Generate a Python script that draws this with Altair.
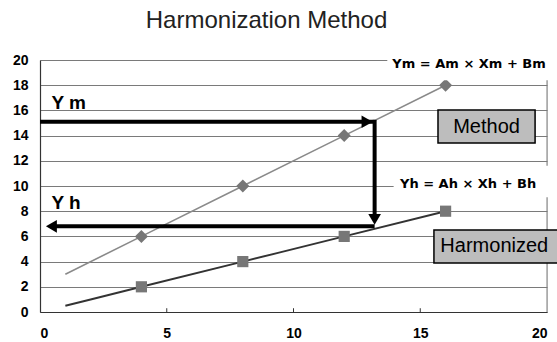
import altair as alt
import pandas as pd

# ---- data ----
line_x = [1, 4, 8, 12, 16]
method_y = [3, 6, 10, 14, 18]
harmonized_y = [0.5, 2, 4, 6, 8]
marker_min_x = 4

x_ticks = [0, 5, 10, 15, 20]
y_ticks = [0, 2, 4, 6, 8, 10, 12, 14, 16, 18, 20]

# arrow path (data units)
ym_level = 15.1
yh_level = 6.8
arrow_x = 13.2

eq_texts = ["Ym = Am  \u00d7  Xm + Bm", "Yh = Ah  \u00d7  Xh + Bh"]
eq_x = [13.9, 14.2]
eq_y = [19.72, 10.16]
eq_bg_x = [13.7, 13.95]
eq_bg_x2 = [20.4, 20.4]
eq_bg_y = [20.6, 11.6]
eq_bg_y2 = [18.4, 9.1]

box_texts = ["Method", "Harmonized"]
box_x = [15.7, 15.54]
box_x2 = [19.53, 20.45]
box_y = [16.03, 6.51]
box_y2 = [13.41, 3.89]

ylab_texts = ["Y m", "Y h"]
ylab_x = [0.45, 0.45]
ylab_y = [16.15, 8.17]

FONT = "Liberation Sans"

xs = alt.Scale(domain=[0, 20], nice=False)
ys = alt.Scale(domain=[0, 20], nice=False)

df = pd.DataFrame({"x": line_x, "method": method_y, "harm": harmonized_y})

base = alt.Chart(df)

xenc = alt.X("x:Q", scale=xs, axis=alt.Axis(values=x_ticks, grid=False, ticks=False,
                                              labelPadding=14, labelFontSize=14, labelFontWeight="bold",
                                              labelColor="black", domainColor="#333333", domainWidth=1.2,
                                              title=None, labelFont=FONT, labelOverlap=False))
yaxis = alt.Axis(values=y_ticks, grid=True, gridColor="#7a7a7a", gridWidth=1, ticks=False,
                 labelPadding=12, labelFontSize=14, labelFontWeight="bold", labelColor="black",
                 domainColor="#333333", domainWidth=1.2, title=None, labelFont=FONT,
                 labelOverlap=False, tickCount=11)

method_line = base.mark_line(color="#8a8a8a", strokeWidth=1.6).encode(
    x=xenc, y=alt.Y("method:Q", scale=ys, axis=yaxis))
harm_line = base.mark_line(color="#333333", strokeWidth=2, interpolate="monotone").encode(
    x=alt.X("x:Q", scale=xs), y=alt.Y("harm:Q", scale=ys))

method_pts = base.transform_filter(alt.datum.x >= marker_min_x).mark_point(
    shape="diamond", filled=True, size=170, color="#777777", opacity=1).encode(
    x=alt.X("x:Q", scale=xs), y=alt.Y("method:Q", scale=ys))
harm_pts = base.transform_filter(alt.datum.x >= marker_min_x).mark_point(
    shape="square", filled=True, size=125, color="#777777", opacity=1).encode(
    x=alt.X("x:Q", scale=xs), y=alt.Y("harm:Q", scale=ys))

# right border and inner x ticks
border_df = pd.DataFrame({"x": [20], "y": [0], "y2": [20]})
border = alt.Chart(border_df).mark_rule(color="#7a7a7a", strokeWidth=1).encode(
    x=alt.X("x:Q", scale=xs), y=alt.Y("y:Q", scale=ys), y2="y2:Q")
tick_df = pd.DataFrame({"x": x_ticks[1:-1], "y": [0] * 3, "y2": [0.3] * 3})
xticks = alt.Chart(tick_df).mark_rule(color="#333333", strokeWidth=1).encode(
    x=alt.X("x:Q", scale=xs), y=alt.Y("y:Q", scale=ys), y2="y2:Q")

# arrows
seg_df = pd.DataFrame({
    "x": [0, arrow_x, arrow_x],
    "x2": [arrow_x, arrow_x, 0.4],
    "y": [ym_level, ym_level + 0.15, yh_level],
    "y2": [ym_level, yh_level + 0.6, yh_level],
})
segs = alt.Chart(seg_df).mark_rule(color="black", strokeWidth=4).encode(
    x=alt.X("x:Q", scale=xs), x2="x2:Q", y=alt.Y("y:Q", scale=ys), y2="y2:Q")
head_df = pd.DataFrame({
    "x": [arrow_x - 0.3, arrow_x, 0.45],
    "y": [ym_level, yh_level + 0.55, yh_level],
    "shape": ["triangle-right", "triangle-down", "triangle-left"],
})
heads = alt.Chart(head_df).mark_point(filled=True, color="black", opacity=1, size=160).encode(
    x=alt.X("x:Q", scale=xs), y=alt.Y("y:Q", scale=ys),
    shape=alt.Shape("shape:N", scale=None, legend=None))

# equation labels with white background
eq_df = pd.DataFrame({"t": eq_texts, "x": eq_x, "y": eq_y, "bx": eq_bg_x, "bx2": eq_bg_x2,
                      "by": eq_bg_y, "by2": eq_bg_y2})
eq_bg = alt.Chart(eq_df).mark_rect(color="white").encode(
    x=alt.X("bx:Q", scale=xs), x2="bx2:Q", y=alt.Y("by:Q", scale=ys), y2="by2:Q")
eq_txt = alt.Chart(eq_df).mark_text(align="left", baseline="middle", fontSize=13,
                                     fontWeight="bold", font="DejaVu Sans", color="black").encode(
    x=alt.X("x:Q", scale=xs), y=alt.Y("y:Q", scale=ys), text="t:N")

# boxes
box_df = pd.DataFrame({"t": box_texts, "x": box_x, "x2": box_x2, "y": box_y, "y2": box_y2})
box_df["cx"] = [(a + b) / 2 for a, b in zip(box_x, [19.53, 20.3])]
box_df["cy"] = [(a + b) / 2 for a, b in zip(box_y, box_y2)]
boxes = alt.Chart(box_df).mark_rect(fill="#bdbdbd", stroke="black", strokeWidth=1.5).encode(
    x=alt.X("x:Q", scale=xs), x2="x2:Q", y=alt.Y("y:Q", scale=ys), y2="y2:Q")
box_txt = alt.Chart(box_df).mark_text(fontSize=20, font=FONT, color="black", baseline="middle").encode(
    x=alt.X("cx:Q", scale=xs), y=alt.Y("cy:Q", scale=ys), text="t:N")

# Y m / Y h labels
yl_df = pd.DataFrame({"t": ylab_texts, "x": ylab_x, "y": ylab_y})
ylabs = alt.Chart(yl_df).mark_text(align="left", baseline="alphabetic", fontSize=19,
                                    fontWeight="bold", font=FONT, color="black").encode(
    x=alt.X("x:Q", scale=xs), y=alt.Y("y:Q", scale=ys), text="t:N")

chart = alt.layer(
    method_line, harm_line, border, xticks, method_pts, harm_pts, segs, heads,
    eq_bg, eq_txt, boxes, box_txt, ylabs
).properties(
    width=507, height=252,
    padding={"left": 40, "top": 60, "right": 10, "bottom": 30},
    autosize="none",
    title=alt.TitleParams("Harmonization Method", fontSize=24, fontWeight=500, font=FONT,
                          color="#222222", anchor="middle", dx=-27, offset=19),
).configure_view(strokeWidth=0).configure(background="white")

chart.save("out.html", embed_options={"renderer": "svg", "actions": False})
